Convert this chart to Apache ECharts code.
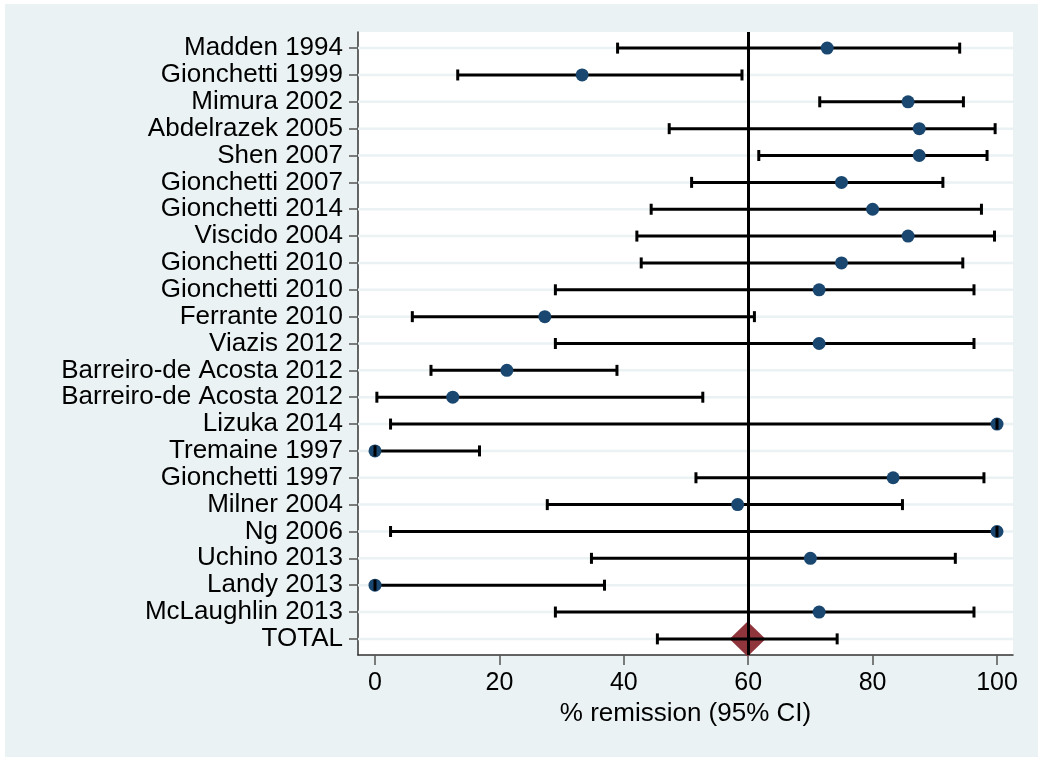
<!DOCTYPE html>
<html>
<head>
<meta charset="utf-8">
<script src="https://cdn.jsdelivr.net/npm/echarts@6/dist/echarts.min.js"></script>
<style>
html, body { margin: 0; padding: 0; background: #fff; }
#chart { position: absolute; left: 5px; top: 4px; width: 1033px; height: 753px; background: #eaf2f3; }
</style>
</head>
<body>
<div id="chart"></div>
<script>
// studies, top to bottom
var studies = ['Madden 1994', 'Gionchetti 1999', 'Mimura 2002', 'Abdelrazek 2005', 'Shen 2007',
    'Gionchetti 2007', 'Gionchetti 2014', 'Viscido 2004', 'Gionchetti 2010', 'Gionchetti 2010',
    'Ferrante 2010', 'Viazis 2012', 'Barreiro-de Acosta 2012', 'Barreiro-de Acosta 2012', 'Lizuka 2014',
    'Tremaine 1997', 'Gionchetti 1997', 'Milner 2004', 'Ng 2006', 'Uchino 2013', 'Landy 2013', 'McLaughlin 2013'];
var estimate = [72.7, 33.3, 85.7, 87.5, 87.5, 75.0, 80.0, 85.7, 75.0, 71.4,
    27.3, 71.4, 21.2, 12.5, 100, 0, 83.3, 58.3, 100, 70.0, 0, 71.4];
var lower = [39.0, 13.3, 71.5, 47.3, 61.7, 50.9, 44.4, 42.1, 42.8, 29.0,
    6.0, 29.0, 9.0, 0.3, 2.5, 0, 51.6, 27.7, 2.5, 34.8, 0, 29.0];
var upper = [94.0, 59.0, 94.6, 99.7, 98.4, 91.3, 97.5, 99.6, 94.5, 96.3,
    61.0, 96.3, 38.9, 52.7, 100, 16.8, 97.9, 84.8, 100, 93.3, 36.9, 96.3];

var totalLabel = 'TOTAL';
var totalEstimate = 59.9;
var totalLower = 45.4;
var totalUpper = 74.3;

var xTicks = [0, 20, 40, 60, 80, 100];
var refValue = 60;

var labels = studies.concat([totalLabel]);
var rows = labels.map(function (_, i) { return i + 1; });
var font = 'Liberation Sans, Arial, Helvetica, sans-serif';

var barData = [];
var pointData = [];
studies.forEach(function (s, i) {
    barData.push([lower[i], upper[i], i + 1]);
    pointData.push([estimate[i], i + 1]);
});
barData.push([totalLower, totalUpper, labels.length]);

function lineItem(params, api) {
    var a = api.coord([api.value(0), api.value(2)]);
    var b = api.coord([api.value(1), api.value(2)]);
    return {
        type: 'line',
        shape: {x1: a[0], y1: a[1], x2: b[0], y2: b[1]},
        style: {stroke: '#000', lineWidth: 3}
    };
}

function capItem(params, api) {
    var a = api.coord([api.value(0), api.value(2)]);
    var b = api.coord([api.value(1), api.value(2)]);
    var h = 5.5;
    return {
        type: 'group',
        children: [
            {type: 'line', shape: {x1: a[0], y1: a[1] - h, x2: a[0], y2: a[1] + h}, style: {stroke: '#000', lineWidth: 3}},
            {type: 'line', shape: {x1: b[0], y1: b[1] - h, x2: b[0], y2: b[1] + h}, style: {stroke: '#000', lineWidth: 3}}
        ]
    };
}

function gridItem(params, api) {
    var cs = params.coordSys;
    var y = api.coord([0, api.value(1)])[1];
    return {
        type: 'line',
        shape: {x1: cs.x, y1: y, x2: cs.x + cs.width, y2: y},
        style: {stroke: '#eaf2f3', lineWidth: 2.5}
    };
}

var myChart = echarts.init(document.getElementById('chart'));

var option = {
    animation: false,
    grid: {
        left: 353, top: 28, width: 655, height: 623,
        show: true, backgroundColor: '#fff', borderWidth: 0
    },
    xAxis: {
        type: 'value',
        min: -2.733,
        max: 102.572,
        axisLine: {show: true, onZero: false, lineStyle: {color: '#333', width: 1.5}},
        axisTick: {show: true, customValues: xTicks, length: 10, lineStyle: {color: '#555', width: 1.5}},
        axisLabel: {customValues: xTicks, margin: 16, fontSize: 25, color: '#000', fontFamily: font},
        splitLine: {show: false},
        name: '% remission (95% CI)',
        nameLocation: 'middle',
        nameGap: 41,
        nameTextStyle: {fontSize: 26, color: '#000', fontFamily: font}
    },
    yAxis: {
        type: 'value',
        inverse: true,
        min: 0.4,
        max: 23.6,
        axisLine: {show: true, onZero: false, lineStyle: {color: '#333', width: 1.5}},
        axisTick: {show: true, customValues: rows, length: 9, lineStyle: {color: '#555', width: 1.5}},
        axisLabel: {
            customValues: rows,
            margin: 15,
            fontSize: 26,
            color: '#000',
            fontFamily: font,
            formatter: function (v) { return labels[Math.round(v) - 1]; }
        },
        splitLine: {show: false}
    },
    series: [
        {
            type: 'custom',
            z: 1,
            renderItem: gridItem,
            encode: {x: 0, y: 1},
            data: rows.map(function (r) { return [0, r]; }),
            silent: true
        },
        {
            type: 'scatter',
            z: 2,
            data: [],
            silent: true,
            markLine: {
                silent: true,
                symbol: 'none',
                label: {show: false},
                lineStyle: {color: '#000', width: 3, type: 'solid'},
                data: [{xAxis: refValue}]
            }
        },
        {
            type: 'scatter',
            z: 3,
            symbol: 'diamond',
            symbolSize: [36, 35],
            itemStyle: {color: '#90353b', opacity: 1},
            data: [[totalEstimate, labels.length]],
            silent: true
        },
        {
            type: 'custom',
            z: 4,
            renderItem: lineItem,
            encode: {x: [0, 1], y: 2},
            data: barData,
            silent: true
        },
        {
            type: 'scatter',
            z: 5,
            symbol: 'circle',
            symbolSize: 13,
            itemStyle: {color: '#1a476f', opacity: 1},
            data: pointData,
            silent: true
        },
        {
            type: 'custom',
            z: 6,
            renderItem: capItem,
            encode: {x: [0, 1], y: 2},
            data: barData,
            silent: true
        }
    ]
};

myChart.setOption(option);
</script>
</body>
</html>
